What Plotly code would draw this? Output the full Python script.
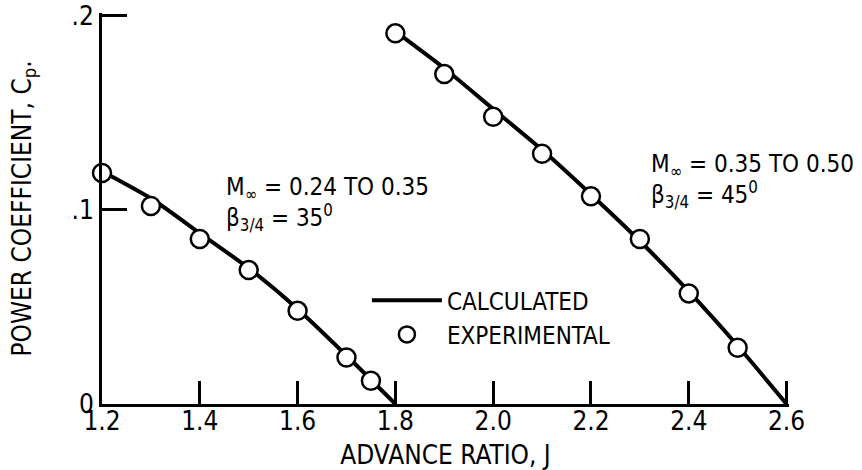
import plotly.graph_objects as go

# ---- data ----
calc35_J = [1.2, 1.3, 1.4, 1.5, 1.6, 1.7, 1.8]
calc35_Cp = [0.120, 0.106, 0.088, 0.070, 0.049, 0.025, 0.0]
exp35_J = [1.2, 1.3, 1.4, 1.5, 1.6, 1.7, 1.75]
exp35_Cp = [0.119, 0.102, 0.085, 0.069, 0.048, 0.024, 0.012]

calc45_J = [1.8, 1.9, 2.0, 2.1, 2.2, 2.3, 2.4, 2.5, 2.6]
calc45_Cp = [0.192, 0.173, 0.152, 0.131, 0.108, 0.084, 0.058, 0.030, 0.0]
exp45_J = [1.8, 1.9, 2.0, 2.1, 2.2, 2.3, 2.4, 2.5]
exp45_Cp = [0.191, 0.170, 0.148, 0.129, 0.107, 0.085, 0.057, 0.029]

x_ticks = [1.2, 1.4, 1.6, 1.8, 2.0, 2.2, 2.4, 2.6]
x_ticklabels = ["1.2", "1.4", "1.6", "1.8", "2.0", "2.2", "2.4", "2.6"]
y_ticks = [0, 0.1, 0.2]
y_ticklabels = ["0", ".1", ".2"]

FONT = "Liberation Sans Narrow, DejaVu Sans Condensed, Arial Narrow, sans-serif"

fig = go.Figure()

line_style = dict(color="black", width=4, shape="spline", smoothing=0.6)
marker_style = dict(symbol="circle", size=18, color="white",
                    line=dict(color="black", width=2.5))

fig.add_trace(go.Scatter(x=calc35_J, y=calc35_Cp, mode="lines", line=line_style,
                         name="CALCULATED", legendgroup="calc", showlegend=True,
                         cliponaxis=False))
fig.add_trace(go.Scatter(x=calc45_J, y=calc45_Cp, mode="lines", line=line_style,
                         name="CALCULATED", legendgroup="calc", showlegend=False,
                         cliponaxis=False))
fig.add_trace(go.Scatter(x=exp35_J, y=exp35_Cp, mode="markers", marker=marker_style,
                         name="EXPERIMENTAL", legendgroup="exp", showlegend=True,
                         cliponaxis=False))
fig.add_trace(go.Scatter(x=exp45_J, y=exp45_Cp, mode="markers", marker=marker_style,
                         name="EXPERIMENTAL", legendgroup="exp", showlegend=False,
                         cliponaxis=False))

fig.add_annotation(xref="paper", yref="paper", x=0.1775, y=0.596,
                   xanchor="left", yanchor="top", align="left", showarrow=False,
                   text="M<sub>∞</sub> = 0.24 TO 0.35<br>β<sub>3/4</sub> = 35<sup>0</sup>",
                   font=dict(family=FONT, size=24, color="black"))
fig.add_annotation(xref="paper", yref="paper", x=0.796, y=0.655,
                   xanchor="left", yanchor="top", align="left", showarrow=False,
                   text="M<sub>∞</sub> = 0.35 TO 0.50<br>β<sub>3/4</sub> = 45<sup>0</sup>",
                   font=dict(family=FONT, size=24, color="black"))

fig.update_layout(
    width=862, height=470,
    margin=dict(l=102, r=73, t=13, b=66, autoexpand=False),
    paper_bgcolor="white", plot_bgcolor="white",
    font=dict(family=FONT, size=26, color="black"),
    legend=dict(x=0.3856, y=0.221, xanchor="left", yanchor="middle",
                bgcolor="rgba(0,0,0,0)", itemwidth=70,
                font=dict(family=FONT, size=24, color="black"),
                tracegroupgap=0),
    xaxis=dict(range=[1.2, 2.605], showgrid=False, zeroline=False, automargin=False,
               showline=True, linecolor="black", linewidth=3,
               ticks="inside", ticklen=23, tickwidth=3, tickcolor="black",
               tickvals=x_ticks, ticktext=x_ticklabels, ticklabelstandoff=-8,
               title=dict(text="ADVANCE RATIO, J", standoff=12,
                          font=dict(family=FONT, size=26))),
    yaxis=dict(range=[0, 0.2015], showgrid=False, zeroline=False, automargin=False,
               showline=True, linecolor="black", linewidth=3,
               ticks="inside", ticklen=25, tickwidth=3, tickcolor="black",
               tickvals=y_ticks, ticktext=y_ticklabels,
               title=dict(text="POWER COEFFICIENT, C<sub>p</sub>.", standoff=33,
                          font=dict(family=FONT, size=26))),
)

fig.write_html("out.html", config={"displayModeBar": False},
               post_script="document.body.style.margin='0px';")
